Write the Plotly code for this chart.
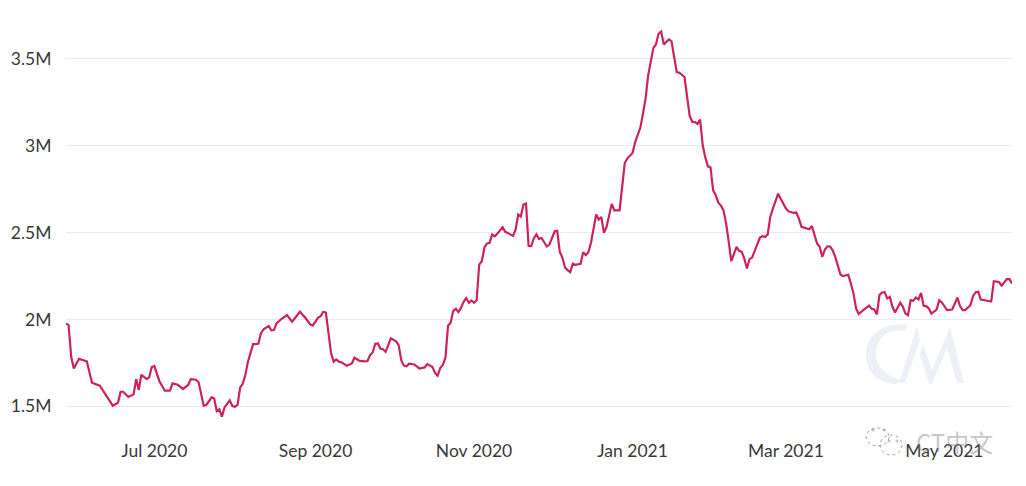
import plotly.graph_objects as go

# active addresses (values in millions)
dates = [
    "2020-05-28", "2020-05-29", "2020-05-30", "2020-05-31", "2020-06-02", "2020-06-05", "2020-06-07", "2020-06-10",
    "2020-06-15", "2020-06-17", "2020-06-18", "2020-06-19", "2020-06-21", "2020-06-23", "2020-06-24", "2020-06-25",
    "2020-06-26", "2020-06-28", "2020-06-29", "2020-06-30", "2020-07-01", "2020-07-03", "2020-07-04", "2020-07-05",
    "2020-07-07", "2020-07-08", "2020-07-10", "2020-07-12", "2020-07-14", "2020-07-15", "2020-07-17", "2020-07-18",
    "2020-07-20", "2020-07-21", "2020-07-23", "2020-07-24", "2020-07-25", "2020-07-26", "2020-07-27", "2020-07-28",
    "2020-07-30", "2020-07-31", "2020-08-01", "2020-08-02", "2020-08-03", "2020-08-04", "2020-08-05", "2020-08-06",
    "2020-08-08", "2020-08-10", "2020-08-11", "2020-08-12", "2020-08-14", "2020-08-15", "2020-08-16", "2020-08-17",
    "2020-08-19", "2020-08-21", "2020-08-23", "2020-08-26", "2020-08-28", "2020-08-30", "2020-08-31", "2020-09-02",
    "2020-09-03", "2020-09-04", "2020-09-05", "2020-09-07", "2020-09-08", "2020-09-09", "2020-09-10", "2020-09-11",
    "2020-09-13", "2020-09-15", "2020-09-16", "2020-09-18", "2020-09-20", "2020-09-21", "2020-09-22", "2020-09-23",
    "2020-09-24", "2020-09-25", "2020-09-26", "2020-09-27", "2020-09-28", "2020-09-30", "2020-10-02", "2020-10-03",
    "2020-10-04", "2020-10-05", "2020-10-06", "2020-10-07", "2020-10-09", "2020-10-11", "2020-10-13", "2020-10-14",
    "2020-10-16", "2020-10-17", "2020-10-18", "2020-10-19", "2020-10-20", "2020-10-21", "2020-10-22", "2020-10-23",
    "2020-10-24", "2020-10-25", "2020-10-26", "2020-10-27", "2020-10-28", "2020-10-29", "2020-10-30", "2020-10-31",
    "2020-11-01", "2020-11-02", "2020-11-03", "2020-11-04", "2020-11-05", "2020-11-06", "2020-11-07", "2020-11-08",
    "2020-11-09", "2020-11-10", "2020-11-12", "2020-11-13", "2020-11-14", "2020-11-16", "2020-11-17", "2020-11-18",
    "2020-11-19", "2020-11-20", "2020-11-21", "2020-11-22", "2020-11-23", "2020-11-24", "2020-11-25", "2020-11-26",
    "2020-11-27", "2020-11-29", "2020-11-30", "2020-12-02", "2020-12-03", "2020-12-04", "2020-12-05", "2020-12-06",
    "2020-12-07", "2020-12-08", "2020-12-09", "2020-12-10", "2020-12-12", "2020-12-13", "2020-12-14", "2020-12-15",
    "2020-12-16", "2020-12-18", "2020-12-19", "2020-12-20", "2020-12-21", "2020-12-22", "2020-12-24", "2020-12-25",
    "2020-12-27", "2020-12-28", "2020-12-29", "2020-12-30", "2020-12-31", "2021-01-01", "2021-01-02", "2021-01-03",
    "2021-01-04", "2021-01-05", "2021-01-06", "2021-01-07", "2021-01-08", "2021-01-09", "2021-01-10", "2021-01-11",
    "2021-01-12", "2021-01-13", "2021-01-15", "2021-01-16", "2021-01-17", "2021-01-18", "2021-01-19", "2021-01-21",
    "2021-01-22", "2021-01-23", "2021-01-24", "2021-01-25", "2021-01-26", "2021-01-27", "2021-01-28", "2021-01-29",
    "2021-01-30", "2021-01-31", "2021-02-01", "2021-02-02", "2021-02-03", "2021-02-04", "2021-02-05", "2021-02-06",
    "2021-02-07", "2021-02-08", "2021-02-10", "2021-02-11", "2021-02-12", "2021-02-13", "2021-02-14", "2021-02-15",
    "2021-02-16", "2021-02-18", "2021-02-19", "2021-02-20", "2021-02-21", "2021-02-22", "2021-02-23", "2021-02-24",
    "2021-02-26", "2021-02-27", "2021-03-01", "2021-03-02", "2021-03-04", "2021-03-05", "2021-03-06", "2021-03-07",
    "2021-03-09", "2021-03-10", "2021-03-11", "2021-03-12", "2021-03-13", "2021-03-14", "2021-03-15", "2021-03-16",
    "2021-03-17", "2021-03-18", "2021-03-19", "2021-03-20", "2021-03-21", "2021-03-22", "2021-03-23", "2021-03-25",
    "2021-03-26", "2021-03-27", "2021-03-28", "2021-03-29", "2021-03-31", "2021-04-02", "2021-04-03", "2021-04-04",
    "2021-04-05", "2021-04-06", "2021-04-07", "2021-04-08", "2021-04-09", "2021-04-10", "2021-04-11", "2021-04-12",
    "2021-04-14", "2021-04-15", "2021-04-16", "2021-04-17", "2021-04-18", "2021-04-19", "2021-04-20", "2021-04-21",
    "2021-04-22", "2021-04-23", "2021-04-24", "2021-04-25", "2021-04-26", "2021-04-28", "2021-04-29", "2021-04-30",
    "2021-05-02", "2021-05-04", "2021-05-06", "2021-05-07", "2021-05-08", "2021-05-09", "2021-05-11", "2021-05-12",
    "2021-05-13", "2021-05-14", "2021-05-15", "2021-05-17", "2021-05-19", "2021-05-20", "2021-05-22", "2021-05-23",
    "2021-05-25", "2021-05-26", "2021-05-27",
]
values = [
    1.977, 1.967, 1.785, 1.718, 1.774, 1.759, 1.636, 1.619,
    1.504, 1.521, 1.584, 1.584, 1.554, 1.569, 1.657, 1.594,
    1.682, 1.657, 1.667, 1.726, 1.732, 1.642, 1.617, 1.590,
    1.590, 1.632, 1.624, 1.600, 1.623, 1.657, 1.653, 1.640,
    1.504, 1.508, 1.552, 1.546, 1.473, 1.483, 1.441, 1.494,
    1.534, 1.502, 1.498, 1.508, 1.607, 1.630, 1.680, 1.757,
    1.858, 1.860, 1.920, 1.944, 1.962, 1.937, 1.939, 1.977,
    2.004, 2.025, 1.987, 2.044, 2.011, 1.971, 1.966, 2.011,
    2.019, 2.044, 2.040, 1.805, 1.757, 1.770, 1.757, 1.753,
    1.734, 1.747, 1.780, 1.762, 1.759, 1.761, 1.795, 1.810,
    1.860, 1.862, 1.831, 1.829, 1.814, 1.891, 1.874, 1.852,
    1.766, 1.734, 1.730, 1.745, 1.741, 1.718, 1.724, 1.743,
    1.726, 1.692, 1.676, 1.720, 1.738, 1.780, 1.964, 1.981,
    2.050, 2.061, 2.042, 2.067, 2.102, 2.123, 2.096, 2.109,
    2.096, 2.111, 2.316, 2.335, 2.414, 2.437, 2.441, 2.489,
    2.479, 2.494, 2.531, 2.504, 2.498, 2.481, 2.517, 2.604,
    2.592, 2.661, 2.667, 2.423, 2.422, 2.466, 2.490, 2.464,
    2.469, 2.420, 2.431, 2.506, 2.510, 2.389, 2.356, 2.299,
    2.284, 2.272, 2.320, 2.314, 2.320, 2.387, 2.370, 2.387,
    2.441, 2.604, 2.575, 2.590, 2.498, 2.533, 2.665, 2.628,
    2.628, 2.762, 2.900, 2.927, 2.944, 2.958, 3.021, 3.059,
    3.104, 3.184, 3.270, 3.404, 3.481, 3.561, 3.583, 3.644,
    3.657, 3.583, 3.611, 3.600, 3.510, 3.423, 3.420, 3.395,
    3.280, 3.169, 3.136, 3.136, 3.125, 3.150, 3.002, 2.931,
    2.881, 2.874, 2.743, 2.715, 2.672, 2.655, 2.628, 2.552,
    2.446, 2.335, 2.418, 2.395, 2.389, 2.351, 2.293, 2.347,
    2.356, 2.427, 2.471, 2.479, 2.475, 2.489, 2.590, 2.638,
    2.724, 2.695, 2.638, 2.623, 2.613, 2.615, 2.580, 2.533,
    2.521, 2.519, 2.538, 2.485, 2.437, 2.418, 2.360, 2.402,
    2.421, 2.420, 2.398, 2.360, 2.306, 2.259, 2.249, 2.257,
    2.207, 2.150, 2.063, 2.031, 2.057, 2.080, 2.061, 2.057,
    2.029, 2.140, 2.155, 2.157, 2.121, 2.130, 2.073, 2.040,
    2.096, 2.073, 2.034, 2.025, 2.111, 2.107, 2.126, 2.115,
    2.153, 2.079, 2.077, 2.063, 2.034, 2.057, 2.111, 2.098,
    2.054, 2.057, 2.126, 2.077, 2.054, 2.054, 2.082, 2.134,
    2.157, 2.159, 2.115, 2.107, 2.103, 2.220, 2.215, 2.194,
    2.232, 2.232, 2.207,
]

y_ticks = [1.5, 2, 2.5, 3, 3.5]
y_labels = ["1.5M", "2M", "2.5M", "3M", "3.5M"]
x_ticks = ["2020-07-01", "2020-09-01", "2020-11-01", "2021-01-01", "2021-03-01", "2021-05-01"]
x_labels = ["Jul 2020", "Sep 2020", "Nov 2020", "Jan 2021", "Mar 2021", "May 2021"]

# the page puts the figure 8px in from the top left corner
PAGE_MARGIN = 8
WIDTH, HEIGHT = 1026 - PAGE_MARGIN, 486 - PAGE_MARGIN
LEFT, RIGHT, TOP, BOTTOM = 58, 14, 12, 56


def px(x):
    return (x - PAGE_MARGIN - LEFT) / (WIDTH - LEFT - RIGHT)


def py(y):
    return 1 - (y - PAGE_MARGIN - TOP) / (HEIGHT - TOP - BOTTOM)


def path(cmds):
    # watermark outlines are sketched in page pixels, turned into paper coordinates here
    out = []
    for cmd, pts in cmds:
        out.append(cmd + " ".join(f"{px(x):.5f},{py(y):.5f}" for x, y in pts))
    return " ".join(out) + " Z"


logo_color = "#edf0f6"
logo_c = path([
    ("M", [(908, 325)]),
    ("C", [(882, 321), (866, 336), (866, 354)]),
    ("C", [(866, 372), (878, 383), (896, 384)]),
    ("L", [(904, 380)]),
    ("C", [(888, 378), (876, 368), (876, 354)]),
    ("C", [(876, 338), (888, 328), (905, 331)]),
])
logo_m1 = path([("M", [(917, 326)]), ("L", [(920, 340)]), ("L", [(905, 383)]), ("L", [(899, 383)])])
logo_m2 = path([("M", [(923, 344)]), ("L", [(932, 370)]), ("L", [(950, 327)]), ("L", [(964, 383)]),
                ("L", [(957, 383)]), ("L", [(947, 348)]), ("L", [(932, 384)]), ("L", [(929, 384)]),
                ("L", [(920, 355)])])

shapes = [dict(type="path", path=p, xref="paper", yref="paper", fillcolor=logo_color,
               line=dict(width=0), layer="below") for p in (logo_c, logo_m1, logo_m2)]

# wechat bubbles sitting over the date labels
for x0, y0, x1, y1 in [(866, 428, 889, 446), (880, 435, 902, 455)]:
    shapes.append(dict(type="circle", xref="paper", yref="paper",
                       x0=px(x0), y0=py(y0), x1=px(x1), y1=py(y1),
                       line=dict(color="#8a8a8a", width=0.8, dash="dot")))
for x0, y0 in [(872, 429), (883, 429), (888, 440), (896, 440)]:
    shapes.append(dict(type="circle", xref="paper", yref="paper",
                       x0=px(x0), y0=py(y0), x1=px(x0 + 2), y1=py(y0 + 2),
                       line=dict(color="#8a8a8a", width=0.6)))

fig = go.Figure()
fig.add_trace(go.Scatter(x=dates, y=values, mode="lines", line=dict(color="#cc2456", width=2.2), hoverinfo="skip"))

fig.add_annotation(text="CT中文", xref="paper", yref="paper", x=px(954), y=py(441), showarrow=False,
                   xanchor="center", yanchor="middle",
                   font=dict(family="Noto Sans CJK SC", size=24, color="rgba(130,130,130,0.45)"))

fig.update_layout(
    width=WIDTH, height=HEIGHT,
    margin=dict(l=LEFT, r=RIGHT, t=TOP, b=BOTTOM),
    plot_bgcolor="white", paper_bgcolor="white",
    showlegend=False,
    shapes=shapes,
    font=dict(family="Lato", size=17.5, color="#3a3a3a"),
    xaxis=dict(range=["2020-05-28", "2021-05-27"], tickmode="array", tickvals=x_ticks, ticktext=x_labels,
               showgrid=False, zeroline=False, showline=False, ticks="outside", ticklen=5,
               tickcolor="rgba(0,0,0,0)", automargin=False),
    yaxis=dict(range=[1.364, 3.723], tickmode="array", tickvals=y_ticks, ticktext=y_labels,
               showgrid=True, gridcolor="#ebebeb", gridwidth=1, zeroline=False, showline=False,
               ticks="outside", ticklen=10, tickcolor="rgba(0,0,0,0)", automargin=False),
)

fig.write_html("out.html")
